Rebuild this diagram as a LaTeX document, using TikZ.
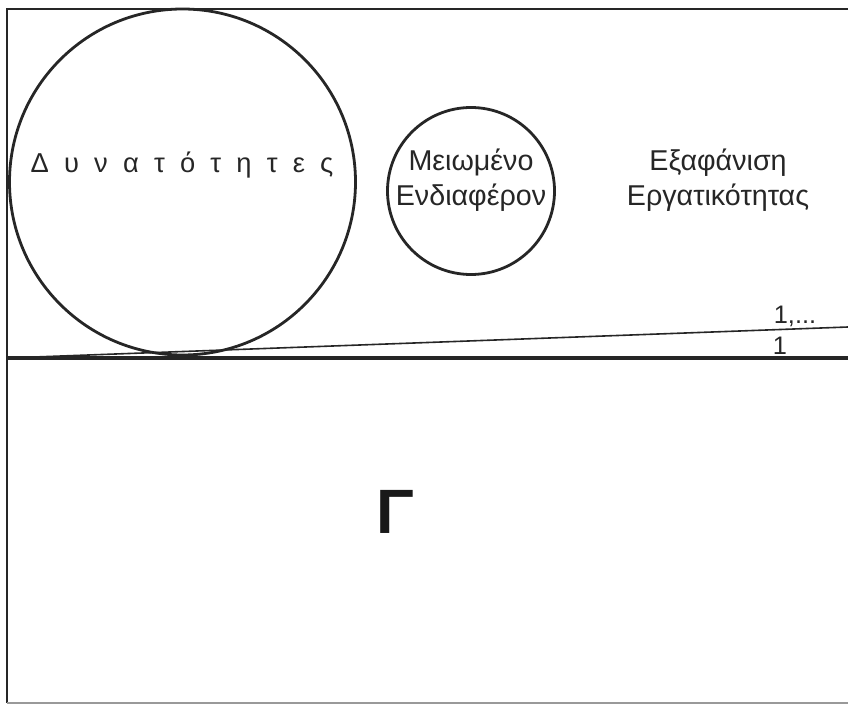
\documentclass[tikz,border=0pt]{standalone}
\usepackage{fontspec}
\setmainfont{Liberation Sans}
\begin{document}
\begin{tikzpicture}[x=0.75pt,y=-0.75pt,
  frame/.style={line width=2pt,black!85},
  circ/.style={draw,circle,line width=2.1pt,black!85,inner sep=0pt},
  lbl/.style={font=\fontsize{21.5}{26}\selectfont,align=center,text=black!85},
  num/.style={font=\fontsize{19}{22}\selectfont,text=black!85}]
\useasboundingbox (0,0) rectangle (848,705);
% frame
\coordinate (tl) at (7,9);
\coordinate (tr) at (848,9);
\coordinate (ml) at (7,358);
\coordinate (mr) at (848,358);
\coordinate (bl) at (7,703);
\coordinate (br) at (848,703);
\coordinate (sr) at (848,327);
\draw[frame] (tr) -- (tl) -- (bl);
\draw[frame,line width=2.4pt] (ml) -- (mr);
\draw[line width=1pt,black!40] (bl) -- (br);
\draw[line width=1.2pt,black!85] (ml) -- (sr);
% circles
\node[circ,minimum size=259.5pt] (big) at (182.5,182) {};
\node[circ,minimum size=125.25pt] (small) at (471,191) {};
% texts
\node[lbl,font=\fontsize{20.5}{25}\selectfont] (dyn) at (182,165) {Δ\ \ υ\ \ ν\ \ α\ \ τ\ \ ό\ \ τ\ \ η\ \ τ\ \ ε\ \ ς};
\node[lbl] (mei) at (471,180) {Μειωμένο\\Ενδιαφέρον};
\node[lbl] (exa) at (718,180) {Εξαφάνιση\\Εργατικότητας};
\node[num] (n1) at (795,316) {1,...};
\node[num] (n2) at (780,346) {1};
\node[font=\fontsize{47}{55}\selectfont\bfseries,text=black!90] (gam) at (395,512) {Γ};
\end{tikzpicture}
\end{document}
